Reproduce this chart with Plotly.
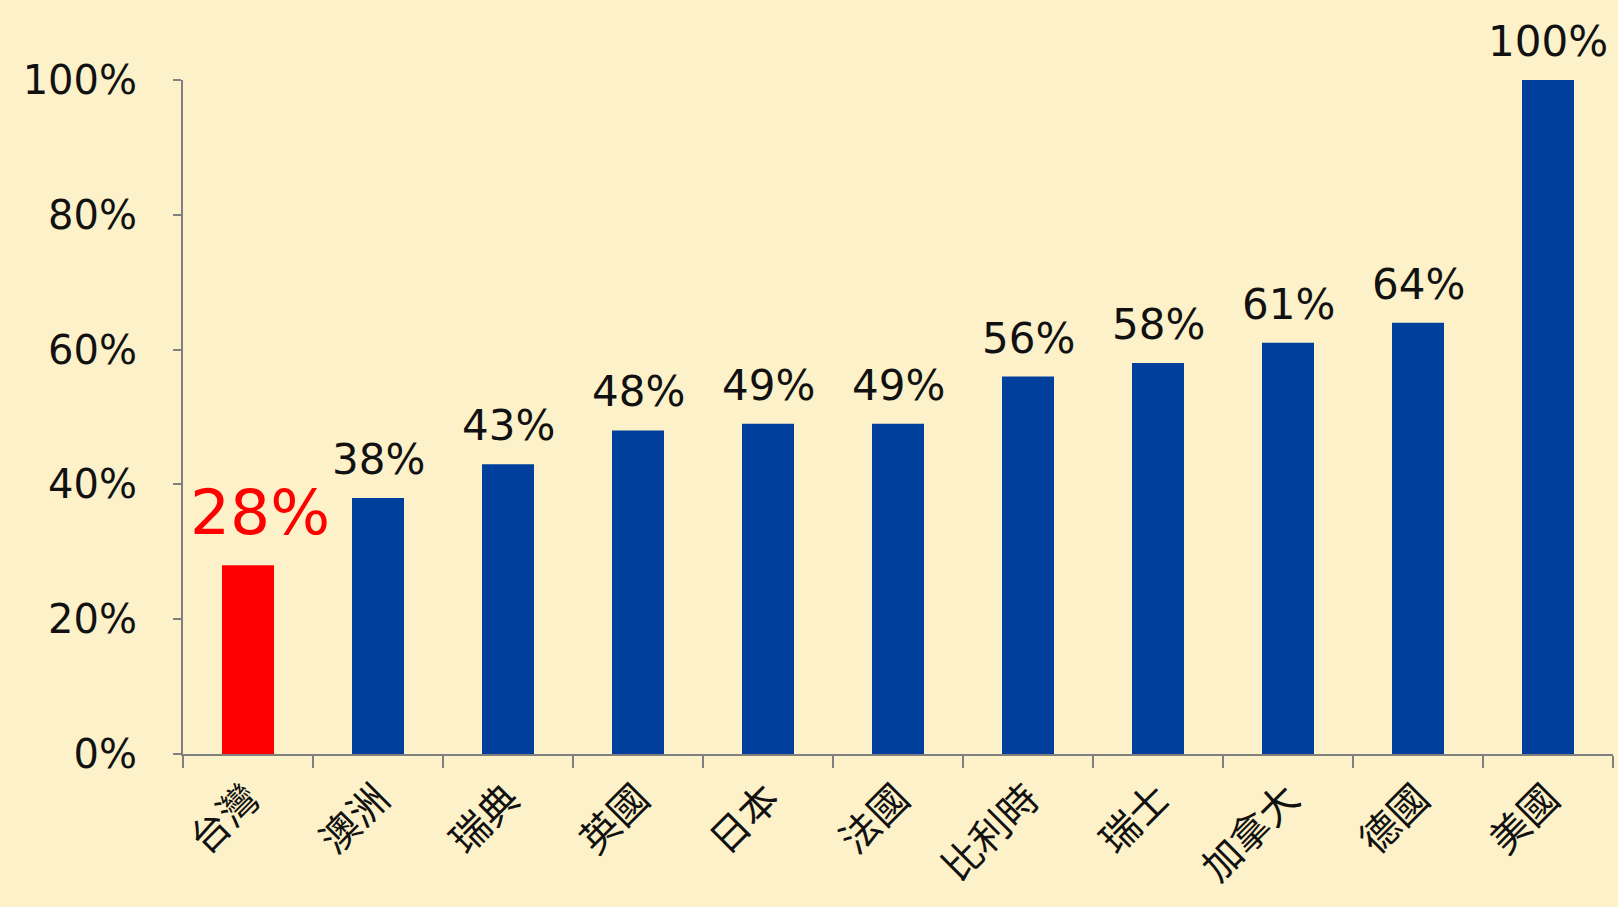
import plotly.graph_objects as go

categories = ["台灣", "澳洲", "瑞典", "英國", "日本", "法國", "比利時", "瑞士", "加拿大", "德國", "美國"]
values = [0.28, 0.38, 0.43, 0.48, 0.49, 0.49, 0.56, 0.58, 0.61, 0.64, 1.00]
labels = ["28%", "38%", "43%", "48%", "49%", "49%", "56%", "58%", "61%", "64%", "100%"]
y_ticks = [0, 0.2, 0.4, 0.6, 0.8, 1.0]
y_tick_labels = ["0%", "20%", "40%", "60%", "80%", "100%"]

colors = ["#FF0000"] + ["#003F9C"] * (len(categories) - 1)
label_colors = ["#FF0000"] + ["#111111"] * (len(categories) - 1)
label_sizes = [63] + [42] * (len(categories) - 1)

fig = go.Figure()
fig.add_trace(go.Bar(
    x=categories, y=values, marker=dict(color=colors, line=dict(width=0)),
    width=0.4, showlegend=False, hoverinfo="x+y",
))

for cat, val, lab, col, sz in zip(categories, values, labels, label_colors, label_sizes):
    fig.add_annotation(
        x=cat, y=val, text=lab, showarrow=False,
        xanchor="center", yanchor="bottom",
        yshift=14 if sz > 50 else 12,
        xshift=12 if sz > 50 else 0,
        font=dict(family="DejaVu Sans", size=sz, color=col),
    )

fig.update_layout(
    width=1618, height=907,
    margin=dict(l=183, r=5, t=80, b=153),
    paper_bgcolor="#FDF1C9",
    plot_bgcolor="rgba(0,0,0,0)",
    xaxis=dict(
        showline=True, linecolor="#808080", linewidth=2,
        ticks="outside", ticklen=12, tickcolor="#808080", tickwidth=2,
        tickson="boundaries", tickangle=-45, ticklabelstandoff=4,
        tickfont=dict(family="Noto Sans CJK TC", size=39, color="#111111"),
        showgrid=False, automargin=False,
    ),
    yaxis=dict(
        range=[0, 1], tickvals=y_ticks, ticktext=y_tick_labels,
        showline=True, linecolor="#808080", linewidth=2,
        ticks="outside", ticklen=8, tickcolor="#808080", tickwidth=2,
        ticklabelstandoff=28,
        tickfont=dict(family="DejaVu Sans", size=40, color="#111111"),
        showgrid=False, zeroline=False, automargin=False,
    ),
)

fig.write_html(
    "out.html",
    config={"displayModeBar": False},
    post_script="document.body.style.margin='0';document.body.style.background='#FDF1C9';",
)
